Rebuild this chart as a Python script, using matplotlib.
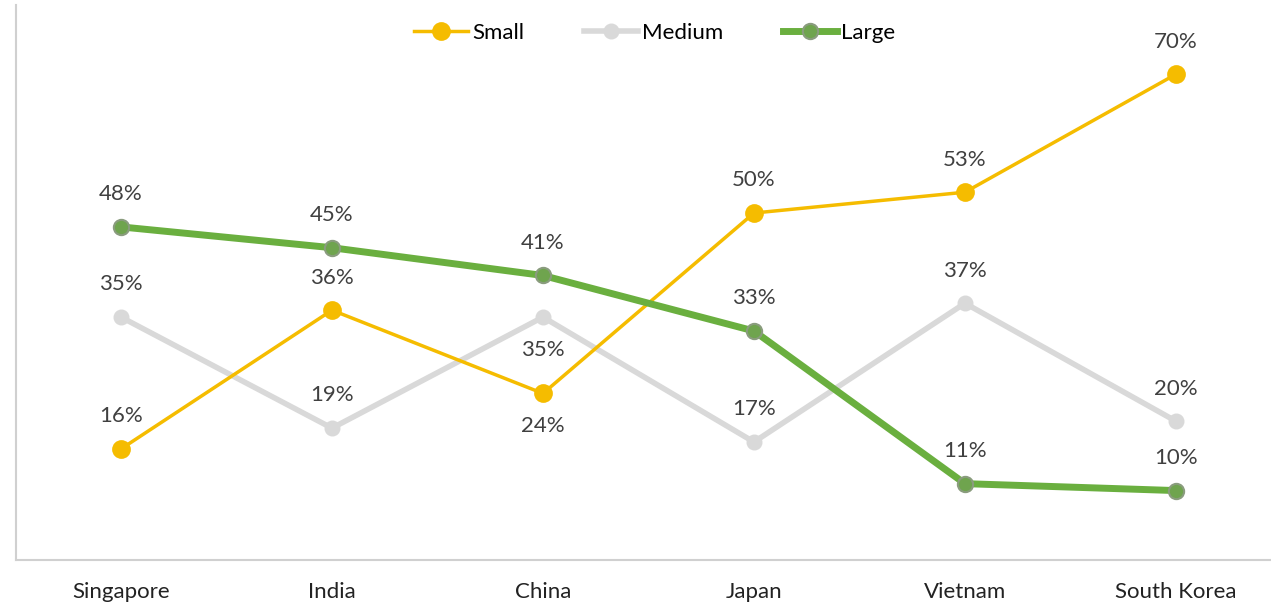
import numpy as np
import matplotlib.pyplot as plt

plt.rcParams['font.family'] = ['Lato', 'DejaVu Sans']

# Countries and company-size shares (%)
countries = ['Singapore', 'India', 'China', 'Japan', 'Vietnam', 'South Korea']
small = [16, 36, 24, 50, 53, 70]
medium = [35, 19, 35, 17, 37, 20]
large = [48, 45, 41, 33, 11, 10]

# label placement: +1 above the point, -1 below
small_pos = [1, 1, -1, 1, 1, 1]
medium_pos = [1, 1, -1, 1, 1, 1]
large_pos = [1, 1, 1, 1, 1, 1]

fig = plt.figure(figsize=(12.71, 6.08), dpi=100)
ax = fig.add_axes([0.0122, 0.079, 0.996, 0.913])

x = np.arange(len(countries))
series = [
    ('Small', small, small_pos, '#F5BC00', '#F5BC00', '#F5BC00', 2.5, 12),
    ('Medium', medium, medium_pos, '#D9D9D9', '#D9D9D9', '#D9D9D9', 4, 10),
    ('Large', large, large_pos, '#6AAF3F', '#6FA44E', '#8A9C7E', 5, 11),
]
for name, vals, pos, col, mcol, ecol, lw, ms in series:
    ax.plot(x, vals, '-o', color=col, lw=lw, ms=ms, mfc=mcol, mec=ecol,
            mew=1.5, label=name, zorder=3 if name != 'Medium' else 2)
    for xi, v, p in zip(x, vals, pos):
        ax.annotate(f'{v}%', (xi, v), xytext=(0, 23.5 * p),
                    textcoords='offset points', ha='center', va='center',
                    fontsize=16, color='#404040')

ax.set_xlim(-0.5, 5.5)
ax.set_ylim(0, 80)
ax.set_yticks([])
ax.set_xticks(x)
ax.set_xticklabels(countries, fontsize=16, color='#222222')
ax.tick_params(axis='x', length=0, pad=16)
for s in ['top', 'right']:
    ax.spines[s].set_visible(False)
for s in ['left', 'bottom']:
    ax.spines[s].set_color('#D0D0D0')
    ax.spines[s].set_linewidth(1.5)

ax.legend(loc='center', bbox_to_anchor=(0.505, 0.95), ncol=3,
          frameon=False, fontsize=16, handlelength=2.4, columnspacing=2.7,
          handletextpad=0.2)

plt.savefig('out.png', dpi=100)
